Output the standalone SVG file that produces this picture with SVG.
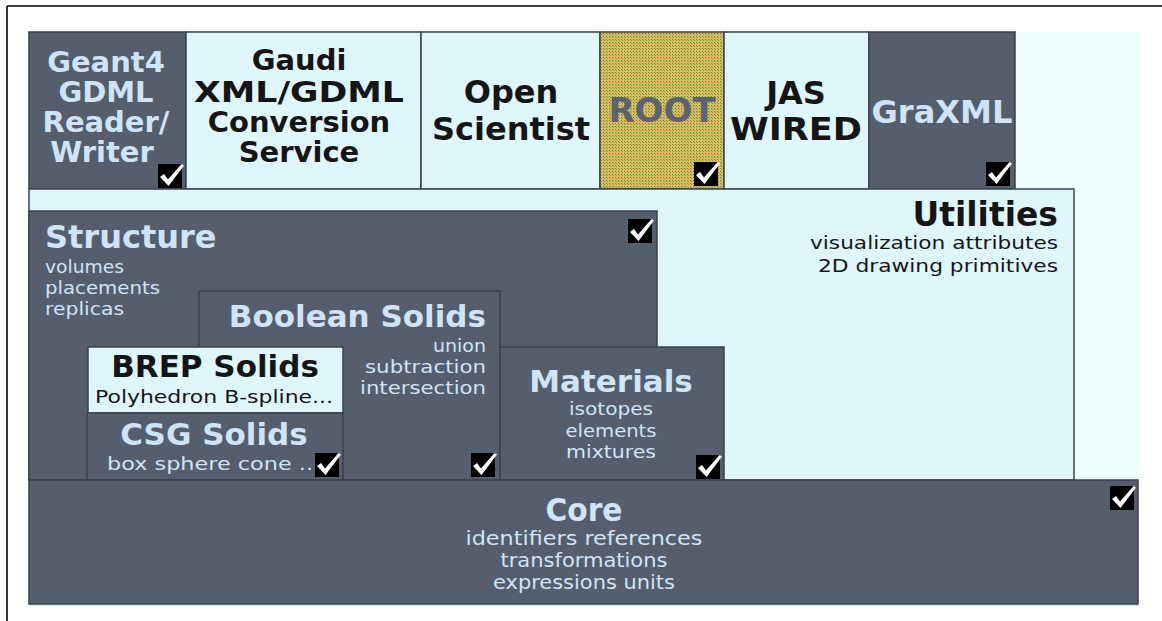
<svg xmlns="http://www.w3.org/2000/svg" xmlns:xlink="http://www.w3.org/1999/xlink" width="1162" height="621" viewBox="0 0 1162 621">
<style>
.dark{fill:#555e6c;stroke:#3b424d;stroke-width:1.5}
.light{fill:#dff6fd;stroke:#3b424d;stroke-width:1.5}
.h{font-family:"DejaVu Sans",sans-serif;font-weight:bold}
.s{font-family:"DejaVu Sans",sans-serif;font-size:18px}
.c{font-family:"DejaVu Sans Condensed","DejaVu Sans",sans-serif}
.lt{fill:#cfe4f8}
.bk{fill:#151515}
.mid{text-anchor:middle}
.end{text-anchor:end}
</style>
<defs>
<pattern id="rootpat" width="3" height="3" patternUnits="userSpaceOnUse">
<rect width="3" height="3" fill="#e2b863"/>
<rect x="0" y="0" width="1" height="1" fill="#3f9a2e"/>
<rect x="1" y="1" width="1" height="1" fill="#6aa83a"/>
</pattern>
<symbol id="chk" viewBox="0 0 26 26" overflow="visible">
<rect x="0" y="2" width="24" height="24" fill="#000"/>
<polygon points="2,15 6,12 10,17.5 23.5,2 26,3.5 10.5,24" fill="#fff"/>
</symbol>
</defs>
<rect width="1162" height="621" fill="#fff"/>
<g id="frame" fill="none" stroke="#000" stroke-width="1.6">
<line x1="7" y1="6" x2="1162" y2="6"/>
<line x1="7" y1="6" x2="7" y2="621"/>
</g>
<rect x="29" y="32" width="1111" height="448" fill="#effeff"/>

<g id="geant4">
<rect class="dark" x="29" y="32" width="157" height="157"/>
<text class="h lt mid" font-size="29" x="106" y="72">Geant4</text>
<text class="h lt mid" font-size="29" x="106" y="102">GDML</text>
<text class="h lt mid" font-size="29" x="106" y="132">Reader/</text>
<text class="h lt mid" font-size="29" x="102" y="162">Writer</text>
<use href="#chk" x="158" y="162" width="26" height="26"/>
</g>
<g id="gaudi">
<rect class="light" x="186" y="32" width="235" height="157"/>
<text class="h bk mid" font-size="29" x="299" y="70">Gaudi</text>
<text class="h bk mid" font-size="29" x="299" y="102" textLength="210" lengthAdjust="spacingAndGlyphs">XML/GDML</text>
<text class="h bk mid" font-size="29" x="299" y="132">Conversion</text>
<text class="h bk mid" font-size="29" x="299" y="162">Service</text>
</g>
<g id="openscientist">
<rect class="light" x="421" y="32" width="179" height="157"/>
<text class="h bk mid" font-size="32" x="511" y="103">Open</text>
<text class="h bk mid" font-size="32" x="511" y="140">Scientist</text>
</g>
<g id="root">
<rect x="600" y="32" width="124" height="157" fill="url(#rootpat)" stroke="#3b424d" stroke-width="1.5"/>
<text class="h mid" font-size="34" fill="#5b6271" x="662" y="122">ROOT</text>
<use href="#chk" x="694" y="160" width="26" height="26"/>
</g>
<g id="jaswired">
<rect class="light" x="724" y="32" width="145" height="157"/>
<text class="h bk mid" font-size="32" x="796" y="104">JAS</text>
<text class="h bk mid" font-size="32" x="796" y="140" textLength="132" lengthAdjust="spacingAndGlyphs">WIRED</text>
</g>
<g id="graxml">
<rect class="dark" x="869" y="32" width="146" height="157"/>
<text class="h lt mid" font-size="32" x="942" y="123" textLength="141" lengthAdjust="spacingAndGlyphs">GraXML</text>
<use href="#chk" x="986" y="160" width="26" height="26"/>
</g>

<g id="utilities">
<rect class="light" x="29" y="189" width="1045" height="291"/>
<text class="h bk end" font-size="33" x="1058" y="226">Utilities</text>
<text class="s bk end" x="1058" y="249" textLength="248" lengthAdjust="spacingAndGlyphs">visualization attributes</text>
<text class="s bk end" x="1058" y="272" textLength="240" lengthAdjust="spacingAndGlyphs">2D drawing primitives</text>
</g>
<g id="structure">
<rect class="dark" x="29" y="211" width="628" height="269"/>
<text class="h lt" font-size="32" x="45" y="248">Structure</text>
<text class="s lt" x="45" y="273" textLength="79" lengthAdjust="spacingAndGlyphs">volumes</text>
<text class="s lt" x="45" y="294" textLength="115" lengthAdjust="spacingAndGlyphs">placements</text>
<text class="s lt" x="45" y="315" textLength="79" lengthAdjust="spacingAndGlyphs">replicas</text>
<use href="#chk" x="628" y="217" width="26" height="26"/>
</g>
<g id="boolean">
<rect class="dark" x="199" y="291" width="301" height="189"/>
<text class="h lt end" font-size="31" x="486" y="327">Boolean Solids</text>
<text class="s lt end" x="486" y="352" textLength="53" lengthAdjust="spacingAndGlyphs">union</text>
<text class="s lt end" x="486" y="373" textLength="121" lengthAdjust="spacingAndGlyphs">subtraction</text>
<text class="s lt end" x="486" y="394" textLength="126" lengthAdjust="spacingAndGlyphs">intersection</text>
<use href="#chk" x="471" y="451" width="26" height="26"/>
</g>
<g id="materials">
<rect class="dark" x="500" y="347" width="224" height="133"/>
<text class="h lt mid" font-size="31" x="611" y="392">Materials</text>
<text class="s lt mid" x="611" y="415" textLength="84" lengthAdjust="spacingAndGlyphs">isotopes</text>
<text class="s lt mid" x="611" y="437" textLength="91" lengthAdjust="spacingAndGlyphs">elements</text>
<text class="s lt mid" x="611" y="458" textLength="90" lengthAdjust="spacingAndGlyphs">mixtures</text>
<use href="#chk" x="696" y="453" width="26" height="26"/>
</g>
<g id="brep">
<rect class="light" x="88" y="347" width="255" height="66"/>
<text class="h bk mid" font-size="31" x="215" y="377">BREP Solids</text>
<text class="s bk mid" x="214" y="403" textLength="238" lengthAdjust="spacingAndGlyphs">Polyhedron B-spline...</text>
</g>
<g id="csg">
<rect class="dark" x="87" y="413" width="256" height="67"/>
<text class="h lt mid" font-size="31" x="214" y="445">CSG Solids</text>
<text class="s lt" x="107" y="470" textLength="206" lengthAdjust="spacingAndGlyphs">box sphere cone ..</text>
<use href="#chk" x="315" y="451" width="26" height="26"/>
</g>
<g id="core">
<line x1="29" y1="605.5" x2="1138" y2="605.5" stroke="#c9eef6" stroke-width="1.5"/>
<rect class="dark" x="29" y="480" width="1109" height="124"/>
<text class="c lt mid" font-size="32" font-weight="bold" x="584" y="521" textLength="77" lengthAdjust="spacingAndGlyphs">Core</text>
<text class="c lt mid" font-size="19" x="584" y="545" textLength="237" lengthAdjust="spacingAndGlyphs">identifiers references</text>
<text class="c lt mid" font-size="19" x="584" y="567" textLength="167" lengthAdjust="spacingAndGlyphs">transformations</text>
<text class="c lt mid" font-size="19" x="584" y="589" textLength="182" lengthAdjust="spacingAndGlyphs">expressions units</text>
<use href="#chk" x="1110" y="484" width="26" height="26"/>
</g>
</svg>
